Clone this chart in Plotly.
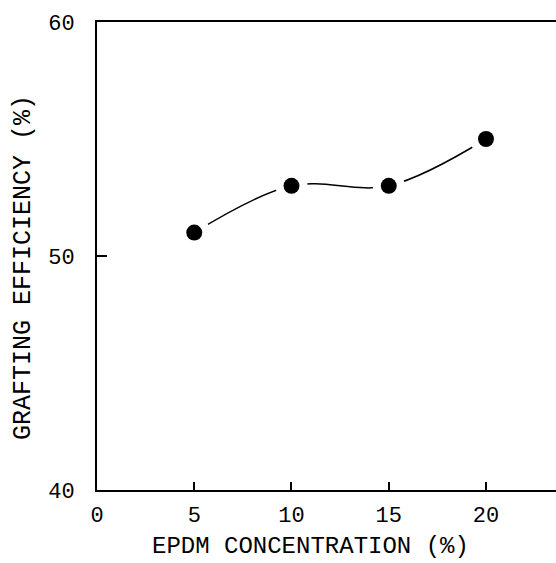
import plotly.graph_objects as go

epdm = [5, 10, 15, 20]
grafting = [51.0, 53.0, 53.0, 55.0]
x_ticks = [0, 5, 10, 15, 20]
y_ticks = [40, 50, 60]

FONT = "Liberation Mono"

fig = go.Figure()
fig.add_trace(go.Scatter(x=epdm, y=grafting, mode="lines",
                         line=dict(color="black", width=1.5, shape="spline", smoothing=1.0),
                         hoverinfo="skip", showlegend=False))
fig.add_trace(go.Scatter(x=epdm, y=grafting, mode="markers",
                         marker=dict(color="white", size=32, line=dict(width=0)),
                         hoverinfo="skip", showlegend=False))
fig.add_trace(go.Scatter(x=epdm, y=grafting, mode="markers",
                         marker=dict(color="black", size=16, line=dict(width=0)),
                         showlegend=False))

fig.update_layout(
    width=556, height=563,
    margin=dict(l=97, r=0, t=22, b=73),
    paper_bgcolor="white", plot_bgcolor="white",
    font=dict(family=FONT, size=22, color="black"),
    xaxis=dict(range=[0, 23.6], tickvals=x_ticks, ticks="inside", ticklen=8, tickwidth=1.5,
               tickcolor="black", showgrid=False, zeroline=False, showline=True,
               linecolor="black", linewidth=2, mirror=True, ticklabelstandoff=4,
               tickfont=dict(family=FONT, size=22)),
    yaxis=dict(range=[40, 60], tickvals=y_ticks, ticks="inside", ticklen=10, tickwidth=1.5,
               tickcolor="black", showgrid=False, zeroline=False, showline=True,
               linecolor="black", linewidth=2, mirror=False, ticklabelstandoff=16,
               tickfont=dict(family=FONT, size=22)),
    annotations=[
        dict(text="EPDM CONCENTRATION (%)", xref="paper", yref="paper",
             x=(310 - 97) / 459, y=-(546 - 490) / 468, xanchor="center", yanchor="middle",
             showarrow=False, font=dict(family=FONT, size=24)),
        dict(text="GRAFTING EFFICIENCY (%)", xref="paper", yref="paper",
             x=(23 - 97) / 459, y=(490 - 268) / 468, xanchor="center", yanchor="middle",
             textangle=-90, showarrow=False, font=dict(family=FONT, size=25)),
    ],
)

fig.write_html("out.html")
